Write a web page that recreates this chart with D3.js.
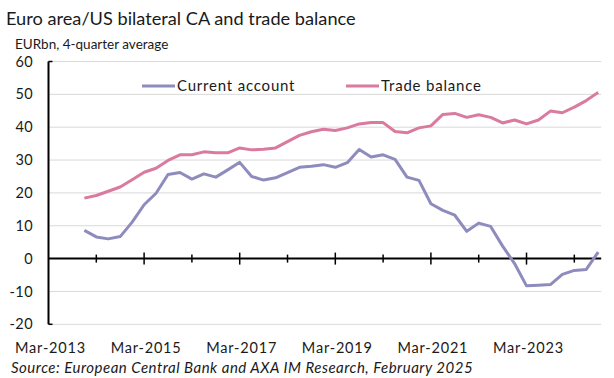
<!DOCTYPE html>
<html><head><meta charset="utf-8">
<script src="https://cdn.jsdelivr.net/npm/d3@7"></script>
<style>
html,body{margin:0;padding:0;background:#fff;}
svg{display:block;}
text{font-family:"Lato","Open Sans",sans-serif;fill:#1a1a1a;}
</style></head>
<body>
<svg id="c" width="614" height="378"></svg>
<script>
// Quarterly data, Dec-2013 .. Sep-2024 (quarter index 3 .. 46 counted from Mar-2013)
const startQuarter = 3;
const currentAccount = [8.6,6.6,6.0,6.7,11.1,16.4,19.9,25.6,26.2,24.2,25.8,24.8,27.0,29.3,25.0,23.9,24.6,26.2,27.8,28.1,28.6,27.8,29.2,33.2,30.9,31.6,30.2,24.8,23.8,16.7,14.7,13.2,8.3,10.8,9.8,3.8,-1.5,-8.3,-8.1,-7.9,-4.8,-3.6,-3.3,2.0];
const tradeBalance = [18.4,19.2,20.5,21.8,24.0,26.3,27.5,29.9,31.6,31.6,32.5,32.2,32.2,33.7,33.1,33.3,33.7,35.6,37.5,38.6,39.4,39.0,39.8,41.0,41.4,41.4,38.7,38.3,39.8,40.4,43.9,44.2,43.0,43.8,43.0,41.3,42.2,41.0,42.2,44.9,44.4,46.1,48.1,50.6];
const xTickLabels = ["Mar-2013","Mar-2015","Mar-2017","Mar-2019","Mar-2021","Mar-2023"];
const yTicks = [-20,-10,0,10,20,30,40,50,60];
const seriesNames = ["Current account","Trade balance"];
const colors = ["#8e8cbc","#d97a9e"];

const svg = d3.select("#c");
const x = d3.scaleLinear().domain([0,46.25]).range([48.5,601.2]);
const y = d3.scaleLinear().domain([-20,60]).range([324.3,61.5]);

// gridlines
svg.append("g").selectAll("line").data(yTicks.filter(d=>d!==0)).join("line")
  .attr("x1",x(0)).attr("x2",x(46.25)).attr("y1",d=>y(d)).attr("y2",d=>y(d))
  .attr("stroke","#d9d9d9").attr("stroke-width",1);

// y labels
svg.append("g").selectAll("text").data(yTicks).join("text")
  .attr("x",33).attr("y",d=>y(d)).attr("dy","0.35em").attr("text-anchor","end")
  .attr("font-size",14.5).attr("letter-spacing",0.4).text(d=>d);

// y axis line
svg.append("line").attr("x1",x(0)).attr("x2",x(0)).attr("y1",y(60)).attr("y2",y(-20))
  .attr("stroke","#000").attr("stroke-width",2);
svg.append("g").selectAll("line").data([-20,60]).join("line")
  .attr("x1",x(0)).attr("x2",x(0)+4).attr("y1",d=>y(d)).attr("y2",d=>y(d))
  .attr("stroke","#000").attr("stroke-width",1.5);

// x axis at zero
svg.append("line").attr("x1",x(0)).attr("x2",x(46.25)).attr("y1",y(0)).attr("y2",y(0))
  .attr("stroke","#000").attr("stroke-width",2);
const ticks = d3.range(4,46,4);
svg.append("g").selectAll("line").data(ticks).join("line")
  .attr("x1",d=>x(d)).attr("x2",d=>x(d))
  .attr("y1",d=>y(0)-(d%8===0?6:4)).attr("y2",d=>y(0)+(d%8===0?6:4))
  .attr("stroke","#000").attr("stroke-width",1.5);

// x labels
svg.append("g").selectAll("text").data(xTickLabels).join("text")
  .attr("x",(d,i)=>x(i*8)+2).attr("y",353).attr("text-anchor","middle")
  .attr("font-size",14.5).attr("letter-spacing",0.8).text(d=>d);

// lines
const line = d3.line().x((d,i)=>x(startQuarter+i)).y(d=>y(d));
[currentAccount,tradeBalance].forEach((s,i)=>{
  svg.append("path").datum(s).attr("d",line).attr("fill","none")
    .attr("stroke",colors[i]).attr("stroke-width",3).attr("stroke-linejoin","round");
});

// legend
const legendPos = [[142,86],[346,86]];
seriesNames.forEach((n,i)=>{
  const [lx,ly]=legendPos[i];
  svg.append("line").attr("x1",lx).attr("x2",lx+33).attr("y1",ly).attr("y2",ly)
    .attr("stroke",colors[i]).attr("stroke-width",3);
  svg.append("text").attr("x",lx+35).attr("y",ly).attr("dy","0.35em")
    .attr("font-size",15).attr("letter-spacing",0.8).text(n);
});

// titles
svg.append("text").attr("x",6).attr("y",25).attr("font-size",18.2).text("Euro area/US bilateral CA and trade balance");
svg.append("text").attr("x",15).attr("y",49).attr("font-size",13.5).text("EURbn, 4-quarter average");
svg.append("text").attr("x",11).attr("y",373).attr("font-size",15).attr("font-style","italic").attr("letter-spacing",0.5)
  .text("Source: European Central Bank and AXA IM Research, February 2025");
</script>
</body></html>
